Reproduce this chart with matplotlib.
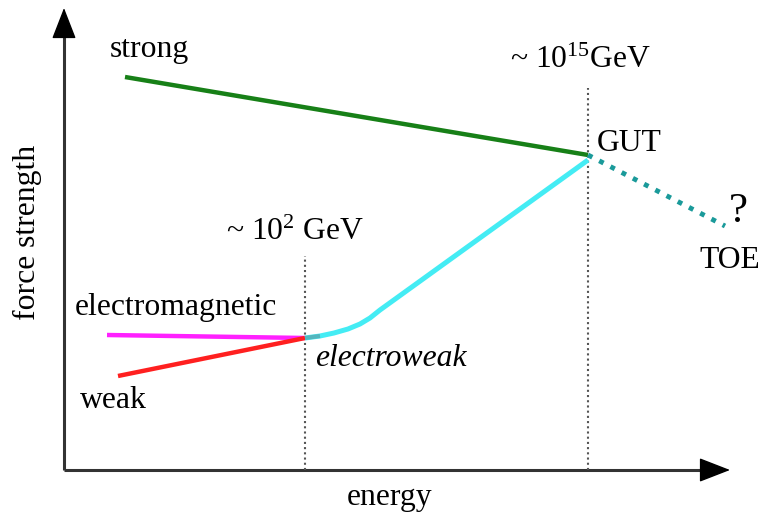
import matplotlib
matplotlib.use("Agg")
import matplotlib.pyplot as plt

plt.rcParams['font.family'] = ['Liberation Serif', 'DejaVu Serif']
plt.rcParams['mathtext.fontset'] = 'custom'
plt.rcParams['mathtext.rm'] = 'Liberation Serif'
plt.rcParams['mathtext.it'] = 'Liberation Serif:italic'

# data in arbitrary units (energy -> x, force strength -> y)
strong_x = [61, 524]
strong_y = [393, 315]
toe_x = [524, 661]
toe_y = [315, 244]
em_x = [43, 241]
em_y = [135, 132]
weak_x = [54, 241]
weak_y = [94, 132]
ew_x = [241, 256, 270, 284, 296, 306, 316, 524]
ew_y = [132, 134, 137, 141, 146, 152, 160, 310]
ew_scale_x = 241
gut_scale_x = 524
ew_line_top = 214
gut_line_top = 382

fig = plt.figure(figsize=(7.63, 5.20), dpi=100)
ax = fig.add_axes([64/763, 50/520, 666/763, 462/520])
ax.set_xlim(0, 666)
ax.set_ylim(0, 462)
ax.axis('off')

fs = 22.8
# axes arrows
ax.plot([0, 650], [0, 0], color='#333333', lw=2.2, clip_on=False, solid_capstyle='butt')
ax.plot([0, 0], [0, 445], color='#333333', lw=2.2, clip_on=False, solid_capstyle='butt')
ax.annotate('', xy=(666, 0), xytext=(640, 0),
            arrowprops=dict(arrowstyle='-|>,head_length=0.9,head_width=0.35', mutation_scale=22,
                            fc='black', ec='black', lw=1, shrinkA=0, shrinkB=0),
            annotation_clip=False)
ax.annotate('', xy=(0, 462), xytext=(0, 436),
            arrowprops=dict(arrowstyle='-|>,head_length=0.9,head_width=0.35', mutation_scale=22,
                            fc='black', ec='black', lw=1, shrinkA=0, shrinkB=0),
            annotation_clip=False)

# vertical dotted lines
ax.plot([ew_scale_x, ew_scale_x], [0, ew_line_top], color='#555555', lw=1.5, ls=(0, (1, 1.5)))
ax.plot([gut_scale_x, gut_scale_x], [0, gut_line_top], color='#555555', lw=1.5, ls=(0, (1, 1.5)))

# force lines
ax.plot(strong_x, strong_y, color='#178017', lw=3.2, solid_capstyle='butt')
ax.plot(toe_x, toe_y, color='#1a9a9a', lw=3.5, ls=(0, (1, 1.6)))
ax.plot(em_x, em_y, color='#ff20ff', lw=3.2, solid_capstyle='butt')
ax.plot(weak_x, weak_y, color='#ff2020', lw=3.2, solid_capstyle='butt')
ax.plot(ew_x, ew_y, color='#44ecf4', lw=3.6, solid_capstyle='butt', solid_joinstyle='round')
ax.plot(ew_x[:2], ew_y[:2], color='#5aa0a8', lw=3.0, alpha=0.7, solid_capstyle='butt')

# labels
ax.text(85, 421, 'strong', fontsize=fs, ha='center', va='center')
ax.text(112, 162, 'electromagnetic', fontsize=fs, ha='center', va='center')
ax.text(49, 70, 'weak', fontsize=fs, ha='center', va='center')
ax.text(251, 112, 'electroweak', fontsize=fs, ha='left', va='center', style='italic')
ax.text(231, 238, r'~ 10$^{2}$ GeV', fontsize=fs, ha='center', va='center')
ax.text(517, 410, r'~ 10$^{15}$GeV', fontsize=fs, ha='center', va='center')
ax.text(533, 327, 'GUT', fontsize=fs, ha='left', va='center')
ax.text(674, 258, '?', fontsize=31, ha='center', va='center')
ax.text(666, 210, 'TOE', fontsize=fs, ha='center', va='center')
ax.text(326, -28, 'energy', fontsize=fs, ha='center', va='center', clip_on=False)
ax.text(-37, 238, 'force strength', fontsize=fs, ha='center', va='center', rotation=90, clip_on=False)

fig.savefig('out.png', dpi=100)
